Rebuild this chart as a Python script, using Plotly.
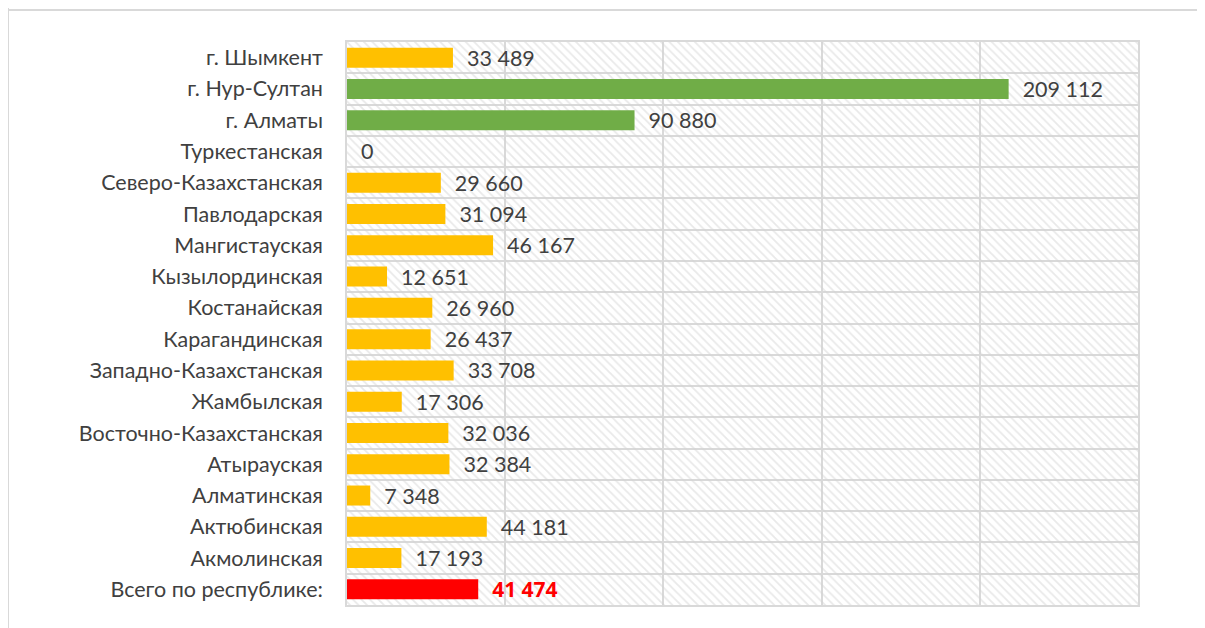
import plotly.graph_objects as go

categories = ["г. Шымкент", "г. Нур-Султан", "г. Алматы", "Туркестанская",
              "Северо-Казахстанская", "Павлодарская", "Мангистауская",
              "Кызылординская", "Костанайская", "Карагандинская",
              "Западно-Казахстанская", "Жамбылская", "Восточно-Казахстанская",
              "Атырауская", "Алматинская", "Актюбинская", "Акмолинская",
              "Всего по республике:"]
values = [33489, 209112, 90880, 0, 29660, 31094, 46167, 12651, 26960, 26437,
          33708, 17306, 32036, 32384, 7348, 44181, 17193, 41474]
groups = ["city", "city2", "city2"] + ["region"] * 14 + ["total"]

x_max = 250000
x_step = 50000

color_map = {"city": "#FFC000", "city2": "#70AD47", "region": "#FFC000", "total": "#FF0000"}
bar_colors = [color_map[g] for g in groups]
label_colors = ["#FF0000" if g == "total" else "#404040" for g in groups]
label_weights = ["bold" if g == "total" else "normal" for g in groups]
label_families = ["Open Sans" if g == "total" else "Lato" for g in groups]
label_sizes = [21 if g == "total" else 21.5 for g in groups]
labels = ["  " + f"{v:,}".replace(",", " ") for v in values]

FS = 21.5

fig = go.Figure()
# hatched plot-area background
fig.add_trace(go.Bar(
    y=categories, x=[x_max] * len(categories), orientation="h", width=1.0,
    marker=dict(color="rgba(0,0,0,0)", line=dict(width=0),
                pattern=dict(shape="\\", fgcolor="#d3d3d3", bgcolor="rgba(0,0,0,0)",
                             size=6, solidity=0.3)),
    hoverinfo="skip", showlegend=False))
fig.add_trace(go.Bar(
    y=categories, x=values, orientation="h", width=0.64,
    marker=dict(color=bar_colors, line=dict(width=0)),
    text=labels, textposition="outside", cliponaxis=False, constraintext="none",
    textfont=dict(color=label_colors, size=label_sizes, family=label_families,
                  weight=label_weights),
    showlegend=False))

fig.update_layout(
    width=1205, height=628, barmode="overlay",
    margin=dict(l=339, r=75, t=34, b=31),
    plot_bgcolor="white", paper_bgcolor="white",
    font=dict(family="Lato", size=FS, color="#404040"),
    xaxis=dict(range=[0, x_max], dtick=x_step, showticklabels=False,
               showgrid=True, gridcolor="#d9d9d9", gridwidth=1.5,
               zeroline=False, showline=True, linecolor="#d9d9d9", linewidth=1.5,
               mirror=True, fixedrange=True),
    yaxis=dict(type="category", autorange="reversed", tickson="boundaries",
               showgrid=True, gridcolor="#d9d9d9", gridwidth=1.5,
               showline=True, linecolor="#d9d9d9", linewidth=1.5, mirror=True,
               ticks="", ticklabelstandoff=18, tickfont=dict(size=FS, color="#404040")),
    shapes=[
        dict(type="line", xref="paper", yref="paper", x0=-0.4286, x1=1.1,
             y0=1.0568, y1=1.0568, line=dict(color="#d9d9d9", width=2)),
        dict(type="line", xref="paper", yref="paper", x0=-0.4286, x1=-0.4286,
             y0=1.08, y1=-0.05, line=dict(color="#d9d9d9", width=2)),
    ],
)

fig.write_html("out.html")
